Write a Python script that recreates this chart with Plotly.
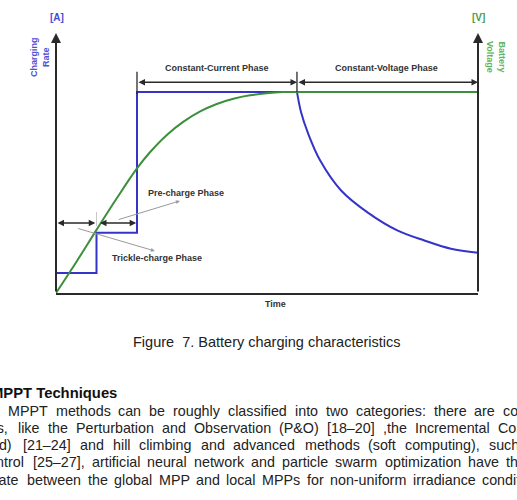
import plotly.graph_objects as go

# ---------------- data (schematic units) ----------------
# charging rate: trickle / pre-charge / constant-current steps
step_t = [0, 1, 1, 2, 2, 5.95]
step_i = [0.10, 0.10, 0.30, 0.30, 1.0, 1.0]
# charging rate decay during constant-voltage phase
cv_t = [5.95, 6.05, 6.22, 6.52, 7.04, 7.70, 8.44, 9.11, 9.75, 10.42]
cv_i = [1.0, 0.90, 0.796, 0.66, 0.51, 0.40, 0.31, 0.26, 0.22, 0.20]
# battery voltage
volt_t = [0, 0.51, 1.0, 1.50, 1.99, 2.32, 2.73, 3.14, 3.56, 3.97, 4.38, 4.79, 5.20, 5.60, 5.95]
volt_v = [0, 0.157, 0.314, 0.471, 0.617, 0.700, 0.785, 0.851, 0.903, 0.940, 0.966,
          0.983, 0.993, 0.999, 1.0]
flat_t = [5.95, 10.42]
flat_v = [1.0, 1.0]

T_END = 10.42
Y_TOP = 1.293

caption = "Figure  7. Battery charging characteristics"
heading = "MPPT Techniques"
# body text: word lines (first word is cut by the left page edge)
body_words = [
    ["The", "MPPT", "methods", "can", "be", "roughly", "classified", "into", "two",
     "categories:", "there", "are", "conventional"],
    ["methods,", "like", "the", "Perturbation", "and", "Observation", "(P&O)", "[18–20]",
     ",the", "Incremental", "Conductance"],
    ["(InCond)", "[21–24]", "and", "hill", "climbing", "and", "advanced", "methods",
     "(soft", "computing),", "such"],
    ["control", "[25–27],", "artificial", "neural", "network", "and", "particle", "swarm",
     "optimization", "have", "the"],
    ["differentiate", "between", "the", "global", "MPP", "and", "local", "MPPs", "for",
     "non-uniform", "irradiance", "conditions."],
]
# left pixel of 2nd word and of last word of each line (justified text)
body_first_x = [7, 17, 22, 32, 26]
body_last_x = [502, 497, 488, 505, 481]
body_y = [410.5, 428, 445, 462, 480]

# ---------------- styles ----------------
W, H = 517, 500
ML, MR, MT, MB = 56, 39, 33, 207
PW, PH = W - ML - MR, H - MT - MB
FONT = "Liberation Sans, Arial, sans-serif"
BODY_SIZE = 14.3
BLUE = "#3434c8"
GREEN = "#3c8f3c"
AXIS = "#2a2a2a"

# Arial / Liberation Sans advance widths (1/1000 em)
_w = dict(zip("abcdefghijklmnopqrstuvwxyz",
              [556, 556, 500, 556, 556, 278, 556, 556, 222, 222, 500, 222, 833, 556, 556,
               556, 556, 333, 500, 278, 556, 500, 722, 500, 500, 500]))
_w.update(zip("ABCDEFGHIJKLMNOPQRSTUVWXYZ",
              [667, 667, 722, 722, 667, 611, 778, 722, 278, 500, 667, 556, 833, 722, 778,
               667, 778, 722, 667, 611, 722, 667, 944, 667, 667, 611]))
_w.update({c: 556 for c in "0123456789"})
_w.update({" ": 278, ",": 278, ".": 278, ":": 278, "-": 333, "–": 556, "[": 278,
           "]": 278, "(": 333, ")": 333, "&": 667})


def text_w(s, size):
    return sum(_w.get(c, 556) for c in s) * size / 1000.0


def px(x):
    return (x - ML) / PW


def py(y):
    return (H - MB - y) / PH


fig = go.Figure()
fig.add_trace(go.Scatter(x=step_t, y=step_i, mode="lines",
                         line=dict(color=BLUE, width=2), hoverinfo="skip"))
fig.add_trace(go.Scatter(x=cv_t, y=cv_i, mode="lines",
                         line=dict(color=BLUE, width=2, shape="spline", smoothing=1.0),
                         hoverinfo="skip"))
fig.add_trace(go.Scatter(x=volt_t, y=volt_v, mode="lines",
                         line=dict(color=GREEN, width=2, shape="spline", smoothing=1.0),
                         hoverinfo="skip"))
fig.add_trace(go.Scatter(x=flat_t, y=flat_v, mode="lines",
                         line=dict(color=GREEN, width=2), hoverinfo="skip"))

ann = []


def arrow(x0, y0, x1, y1, width=2, head=2, size=1.0, color=AXIS, side="end"):
    ann.append(dict(x=x1, y=y1, ax=x0, ay=y0, xref="x", yref="y", axref="x", ayref="y",
                    text="", showarrow=True, arrowhead=head, startarrowhead=head,
                    arrowsize=size, startarrowsize=size, arrowwidth=width,
                    arrowcolor=color, arrowside=side, standoff=0, startstandoff=0))


# axes with arrows
arrow(0, 0, 0, Y_TOP, width=2, head=2, size=1.0)
arrow(T_END, 0, T_END, Y_TOP, width=2, head=2, size=1.0)

# phase arrows
arrow(2.0, 1.048, 5.95, 1.048, width=1.3, head=2, size=1.0, side="end+start")
arrow(5.95, 1.048, T_END, 1.048, width=1.3, head=2, size=1.0, side="end+start")
arrow(0.0, 0.348, 0.97, 0.348, width=1.3, head=2, size=1.0, side="end+start")
arrow(1.05, 0.348, 1.98, 0.348, width=1.3, head=2, size=1.0, side="end+start")

# pointer lines
arrow(1.51, 0.363, 3.06, 0.458, width=1, head=2, size=0.8, color="#9a9a9a")
arrow(0.51, 0.323, 2.44, 0.209, width=1, head=2, size=0.8, color="#9a9a9a")

shapes = [
    dict(type="line", xref="x", yref="y", x0=2.0, x1=2.0, y0=0.99, y1=1.10,
         line=dict(color=AXIS, width=1.3)),
    dict(type="line", xref="x", yref="y", x0=5.95, x1=5.95, y0=1.0, y1=1.10,
         line=dict(color=AXIS, width=1.3)),
    dict(type="line", xref="x", yref="y", x0=1.0, x1=1.0, y0=0.333, y1=0.403,
         line=dict(color="#c8c8c8", width=1)),
]


def label(x, y, text, size=9, color="#333", bold=True, angle=0, ref="x"):
    ann.append(dict(x=x, y=y, xref=ref, yref="y" if ref == "x" else "paper",
                    text=f"<b>{text}</b>" if bold else text, showarrow=False,
                    textangle=angle, font=dict(family=FONT, size=size, color=color),
                    xanchor="center", yanchor="middle", borderpad=0))


label(3.98, 1.12, "Constant-Current Phase")
label(8.17, 1.12, "Constant-Voltage Phase")
label(3.22, 0.4975, "Pre-charge Phase")
label(2.49, 0.174, "Trickle-charge Phase")
label(px(275), py(304), "Time", ref="paper")
label(px(57), py(17), "[A]", size=10, color="#4b4bd2", ref="paper")
label(px(478), py(17), "[V]", size=10, color="#4a9d4a", ref="paper")
label(px(40), py(57), "Charging<br>Rate", size=9, color="#5050d4", angle=-90, ref="paper")
label(px(496), py(57), "Battery<br>Voltage", size=9, color="#5fb55f", angle=90, ref="paper")

# caption, heading and body text (paper coordinates)
ann.append(dict(x=px(267), y=py(341.7), xref="paper", yref="paper", text=caption,
                showarrow=False, xanchor="center", yanchor="middle", borderpad=0,
                font=dict(family=FONT, size=14.5, color="#222")))
ann.append(dict(x=px(118), y=py(392.7), xref="paper", yref="paper", text=f"<b>{heading}</b>",
                showarrow=False, xanchor="right", yanchor="middle", borderpad=0,
                font=dict(family=FONT, size=14.8, color="#111")))

for words, x0, x1, yy in zip(body_words, body_first_x, body_last_x, body_y):
    inner = words[1:]
    widths = [text_w(w, BODY_SIZE) for w in inner]
    gap = (x1 - x0 - sum(widths[:-1])) / (len(inner) - 1)
    # first (cut) word, right-aligned before the second word
    ann.append(dict(x=px(x0 - gap), y=py(yy), xref="paper", yref="paper", text=words[0],
                    showarrow=False, xanchor="right", yanchor="middle", borderpad=0,
                    font=dict(family=FONT, size=BODY_SIZE, color="#222")))
    x = x0
    for w, wd in zip(inner, widths):
        ann.append(dict(x=px(x), y=py(yy), xref="paper", yref="paper", text=w,
                        showarrow=False, xanchor="left", yanchor="middle", borderpad=0,
                        font=dict(family=FONT, size=BODY_SIZE, color="#222")))
        x += wd + gap

fig.update_layout(
    width=W, height=H, margin=dict(l=ML, r=MR, t=MT, b=MB, pad=0),
    paper_bgcolor="white", plot_bgcolor="white", showlegend=False,
    xaxis=dict(range=[0, T_END], showline=True, linecolor=AXIS, linewidth=2,
               showgrid=False, zeroline=False, showticklabels=False, ticks=""),
    yaxis=dict(range=[0, Y_TOP], showline=False, showgrid=False, zeroline=False,
               showticklabels=False, ticks=""),
    annotations=ann, shapes=shapes,
)
fig.write_html("out.html")
